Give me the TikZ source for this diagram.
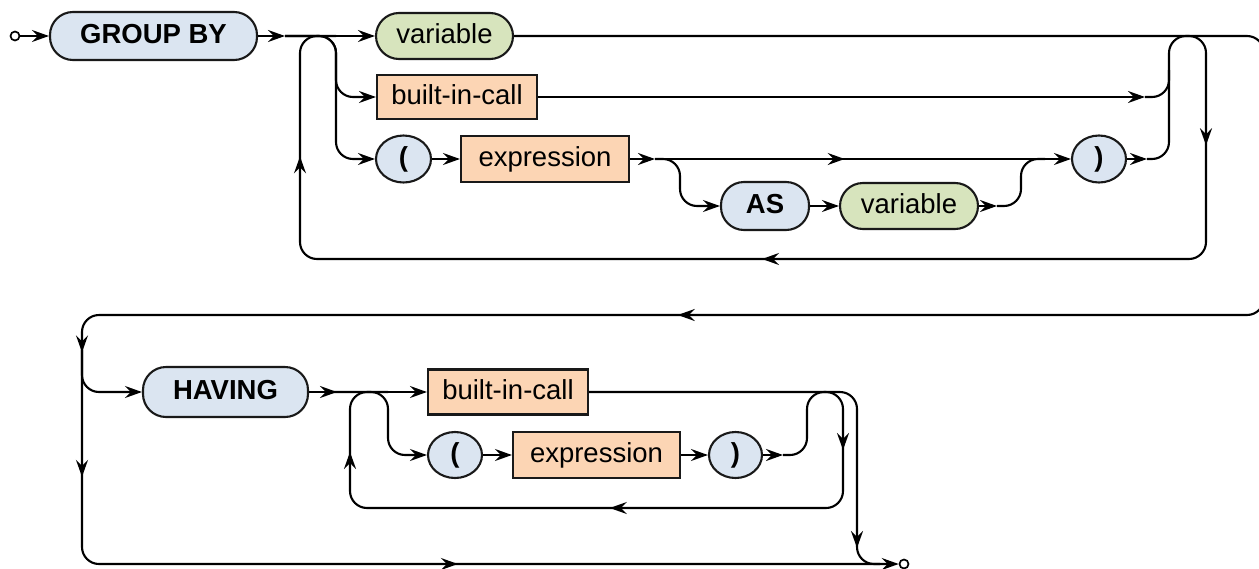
\documentclass[tikz,border=0pt]{standalone}
\usepackage{fontspec}
\setmainfont{Liberation Sans}
\usetikzlibrary{arrows.meta,shapes.geometric,decorations.markings}
\definecolor{termblue}{RGB}{219,229,241}
\definecolor{vargreen}{RGB}{215,228,189}
\definecolor{ruleorange}{RGB}{252,213,180}
\tikzset{
  boxbase/.style={draw=black!90, line width=2.1pt, inner sep=0pt,
    text height=20pt, text depth=6pt},
  term/.style={boxbase, rectangle, rounded corners=23pt, fill=termblue,
    font={\fontsize{27.5}{33}\selectfont\bfseries}},
  paren/.style={boxbase, ellipse, fill=termblue,
    font={\fontsize{27.5}{33}\selectfont\bfseries}},
  varbox/.style={boxbase, rectangle, rounded corners=23pt, fill=vargreen,
    font={\fontsize{27.5}{33}\selectfont}},
  rulebox/.style={boxbase, rectangle, fill=ruleorange,
    font={\fontsize{27.5}{33}\selectfont}},
  dot/.style={circle, draw, line width=1.7pt, minimum size=9pt, inner sep=0pt, fill=white},
  wire/.style={line width=2.1pt, rounded corners=17pt},
  flow/.style={wire, -{Stealth[length=17pt,width=12pt,inset=6pt]}},
  tipat/.style={decoration={markings, mark=at position #1 with
    {\arrow[line width=2.1pt]{Stealth[length=17pt,width=12pt,inset=6pt]}}},
    postaction={decorate}}
}
\begin{document}
\begin{tikzpicture}[x=1pt, y=-1pt]
\useasboundingbox (0,0) rectangle (1259,568);

% ---- GROUP BY clause ----
\node[dot] (st) at (15,36) {};
\node[term, minimum width=207pt, minimum height=48pt] (gb) at (153.5,36) {GROUP BY};
\node[varbox, minimum width=137pt, minimum height=46pt] (v1) at (444.5,36) {variable};
\node[rulebox, minimum width=160pt, minimum height=44pt] (bic1) at (457,97) {built-in-call};
\node[paren, minimum width=55pt, minimum height=47pt] (lp1) at (403.5,159) {(};
\node[rulebox, minimum width=168pt, minimum height=46pt] (ex1) at (545,159) {expression};
\node[term, minimum width=88pt, minimum height=48pt] (as) at (765,206) {AS};
\node[varbox, minimum width=138pt, minimum height=46pt] (v2) at (909,206) {variable};
\node[paren, minimum width=54pt, minimum height=47pt] (rp1) at (1099,159) {)};

\coordinate (j1) at (285,36);
\coordinate (L1) at (300,259);
\coordinate (L2) at (300,36);
\coordinate (B1) at (336,36);
\coordinate (B2) at (336,97);
\coordinate (B3) at (336,159);
\coordinate (e1) at (655,159);
\coordinate (s1) at (680,159);
\coordinate (s2) at (680,206);
\coordinate (e2) at (997,206);
\coordinate (s3) at (1021,206);
\coordinate (s4) at (1021,159);
\coordinate (s5) at (1045,159);
\coordinate (e3) at (1147,159);
\coordinate (e4) at (1145,97);
\coordinate (R1) at (1169,159);
\coordinate (R2) at (1169,36);
\coordinate (R3) at (1206,36);
\coordinate (R4) at (1206,259);
\coordinate (R5) at (1169,97);
\coordinate (R6) at (1169,70);

% ---- HAVING clause ----
\node[term, minimum width=165pt, minimum height=50pt] (hv) at (225.5,392) {HAVING};
\node[rulebox, minimum width=160pt, minimum height=45pt] (bic2) at (508,392) {built-in-call};
\node[paren, minimum width=54pt, minimum height=46pt] (lp2) at (455,455) {(};
\node[rulebox, minimum width=167pt, minimum height=46pt] (ex2) at (596.5,455) {expression};
\node[paren, minimum width=53pt, minimum height=46pt] (rp2) at (735.5,455) {)};
\node[dot] (en) at (904,564) {};

\coordinate (W1) at (1264,36);
\coordinate (W2) at (1264,315);
\coordinate (W3) at (82,315);
\coordinate (W4) at (82,564);
\coordinate (W5) at (82,392);
\coordinate (W6) at (82,350);
\coordinate (j2) at (337,392);
\coordinate (H1) at (350,508);
\coordinate (H2) at (350,392);
\coordinate (H3) at (388,392);
\coordinate (H4) at (388,455);
\coordinate (e5) at (783,455);
\coordinate (H5) at (807,455);
\coordinate (H6) at (807,392);
\coordinate (H7) at (843,392);
\coordinate (H8) at (843,508);
\coordinate (X1) at (857,392);
\coordinate (X2) at (857,564);
\coordinate (X3) at (880,564);

% ---- connectors, first clause ----
\draw[flow] (st) -- (gb);
\draw[flow] (gb) -- (j1);
\draw[flow] (j1) -- (v1);
\draw[flow] (j1) -- (B1) -- (B2) -- (bic1);
\draw[flow] (j1) -- (B1) -- (B3) -- (lp1);
\draw[flow] (lp1) -- (ex1);
\draw[flow] (ex1) -- (e1);
\draw[flow] (e1) -- (rp1);
\draw[flow] (e1) -- (s1) -- (s2) -- (as);
\draw[flow] (as) -- (v2);
\draw[flow] (v2) -- (e2);
\draw[wire] (e2) -- (s3) -- (s4) -- (s5);
\draw[flow] (rp1) -- (e3);
\draw[flow] (bic1) -- (e4);
\draw[wire] (e4) -- (R5) -- (R6);
\draw[wire] (e3) -- (R1) -- (R2) -- (R3) -- (R4) -- (L1) -- (L2) -- (B1);

% ---- wrap from the first clause to the second ----
\draw[flow] (v1) -- (W1) -- (W2) -- (W3) -- (W4) -- (en);
\draw[flow] (W6) -- (W5) -- (hv);

% ---- connectors, second clause ----
\draw[flow] (hv) -- (j2);
\draw[flow] (j2) -- (bic2);
\draw[flow] (j2) -- (H2) -- (H3) -- (H4) -- (lp2);
\draw[flow] (lp2) -- (ex2);
\draw[flow] (ex2) -- (rp2);
\draw[flow] (rp2) -- (e5);
\draw[wire] (e5) -- (H5) -- (H6) -- (H7) -- (H8) -- (H1) -- (H2) -- (H3);
\draw[wire] (bic2) -- (X1) -- (X2) -- (X3);

% ---- direction marks along the straight runs ----
\path[tipat=0.49] (R3) -- (R4);
\path[tipat=0.49] (R4) -- (L1);
\path[tipat=0.46] (L1) -- (L2);
\path[tipat=0.456] (e1) -- (rp1);
\path[tipat=0.496] (W2) -- (W3);
\path[tipat=0.15] (W3) -- (W4);
\path[tipat=0.65] (W3) -- (W4);
\path[tipat=0.485] (W4) -- (X2);
\path[tipat=0.5] (H7) -- (H8);
\path[tipat=0.473] (H8) -- (H1);
\path[tipat=0.483] (H1) -- (H2);
\path[tipat=0.907] (X1) -- (X2);
\end{tikzpicture}
\end{document}
